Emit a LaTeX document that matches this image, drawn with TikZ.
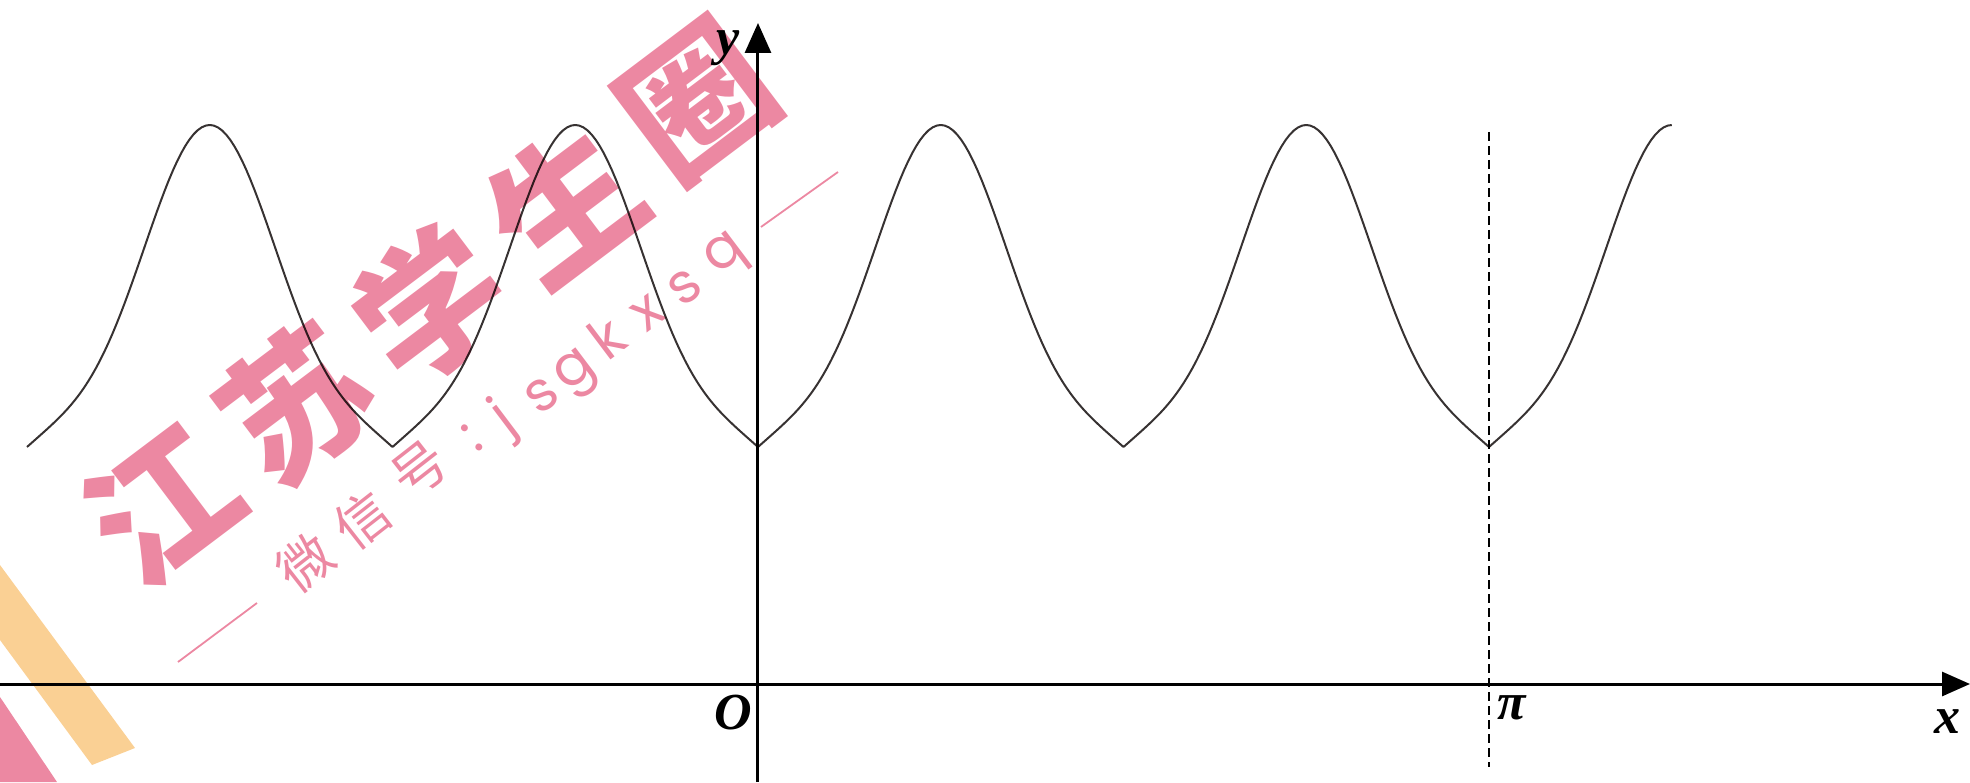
\documentclass[tikz,border=0pt]{standalone}
\usepackage{fontspec}
\setmainfont{Liberation Serif}
\newfontfamily\cjk{Noto Sans CJK SC}
\newfontfamily\wmlatin{Poppins}
\usetikzlibrary{arrows.meta}
\definecolor{wmpink}{RGB}{236,136,162}
\definecolor{wmorange}{RGB}{250,208,148}
\definecolor{curvecol}{RGB}{55,50,50}
\tikzset{
  axis/.style={line width=3pt, black},
  graph/.style={line width=2pt, curvecol, line join=round},
  bigwm/.style={rotate=37, text=wmpink, font=\cjk\bfseries\fontsize{145}{150}\selectfont, inner sep=0pt},
  smallwm/.style={rotate=38, text=wmpink, font=\cjk\fontsize{54}{58}\selectfont, inner sep=0pt},
  latinwm/.style={rotate=37, text=wmpink, font=\wmlatin\fontsize{56}{60}\selectfont, inner sep=0pt},
  wmline/.style={wmpink, line width=1.8pt},
  lbl/.style={font=\fontsize{52}{56}\selectfont\bfseries\itshape, inner sep=0pt},
  declare function={hs(\t)=abs(sin(2*\t)); hh(\t)=0.32*hs(\t)+0.68*hs(\t)*hs(\t)*hs(\t)*hs(\t);},
}
\begin{document}
\begin{tikzpicture}[x=1pt,y=1pt]
\useasboundingbox (-758,-98) rectangle (1212,684);
% corner stripes
\fill[wmorange] (-758,119) -- (-623,-64) -- (-666,-81) -- (-758,44) -- cycle;
\fill[wmpink] (-758,-13) -- (-701,-98) -- (-758,-98) -- cycle;
% graph
\draw[graph] plot[domain=-180:225, samples=406]
  ({\x*4.06111}, {237+322*hh(\x)});
% axes
\coordinate (xs) at (-758,0);
\coordinate (xe) at (1212,0);
\coordinate (ys) at (0,-98);
\coordinate (ye) at (0,661);
\draw[axis, -{Triangle[length=28pt,width=24pt]}] (xs) -- (xe);
\draw[axis, -{Triangle[length=30pt,width=26pt]}] (ys) -- (ye);
\coordinate (pt) at (731,552);
\coordinate (pb) at (731,-83);
\draw[line width=2.2pt, dash pattern=on 9pt off 5pt] (pt) -- (pb);
% labels
\node[lbl] (O) at (-25,-29) {O};
\node[lbl] (pi) at (754,-24) {π};
\node[lbl] (xl) at (1189,-38) {x};
\node[lbl] (yl) at (-30,636) {y};
% watermark
\begin{scope}[blend mode=multiply]
\node[bigwm] (w1) at (-596,179) {江};
\node[bigwm] (w2) at (-462,280) {苏};
\node[bigwm] (w3) at (-328,380) {学};
\node[bigwm] (w4) at (-194,481) {生};
\node[bigwm] (w5) at (-60,582) {圈};
\node[smallwm] (s1) at (-453,121) {微};
\node[smallwm] (s2) at (-396,164) {信};
\node[smallwm] (s3) at (-338,214) {号};
\node[latinwm] (s4) at (-286,246) {:};
\node[latinwm] (s5) at (-253,264) {j};
\node[latinwm] (s6) at (-216,289) {s};
\node[latinwm] (s7) at (-180,309) {g};
\node[latinwm] (s8) at (-151,347) {k};
\node[latinwm] (s9) at (-110,371) {x};
\node[latinwm] (s10) at (-73,397) {s};
\node[latinwm] (s11) at (-30,427) {q};
\coordinate (la) at (-580,22);
\coordinate (lb) at (-501,81);
\coordinate (ra) at (3,457);
\coordinate (rb) at (80,512);
\draw[wmline] (la) -- (lb);
\draw[wmline] (ra) -- (rb);
\end{scope}
\end{tikzpicture}
\end{document}
